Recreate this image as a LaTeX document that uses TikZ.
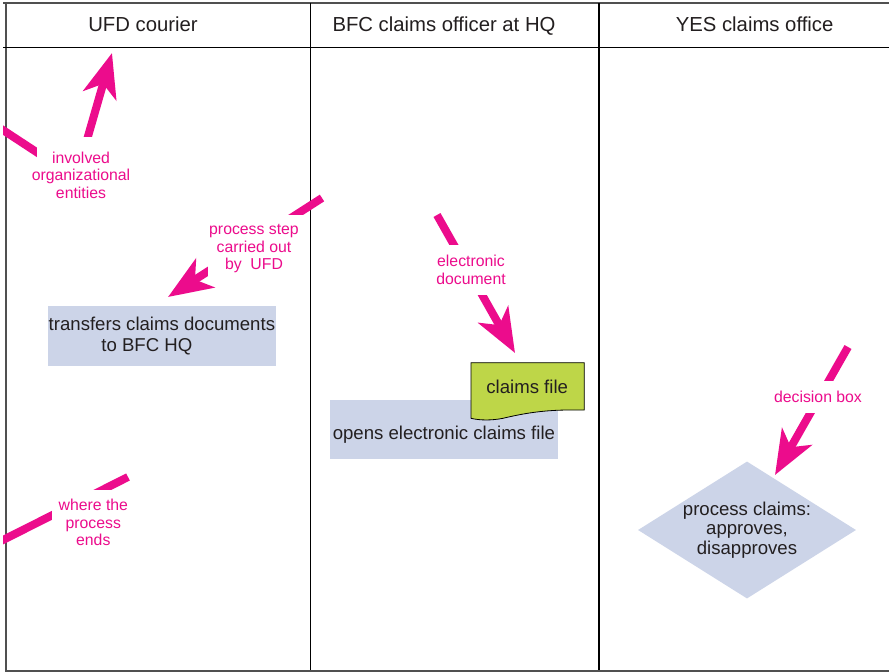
\documentclass[tikz,border=0pt]{standalone}
\usepackage{fontspec}
\setmainfont{Liberation Sans}
\usetikzlibrary{arrows.meta,shapes.geometric}
\definecolor{pinkc}{RGB}{236,12,140}
\definecolor{boxc}{RGB}{204,212,232}
\definecolor{docc}{RGB}{190,214,72}
\definecolor{txtc}{RGB}{35,31,32}
\definecolor{framec}{RGB}{80,80,80}
\begin{document}
\begin{tikzpicture}[x=1pt,y=-1pt,
  hdr/.style={font=\fontsize{20.3}{24}\selectfont, text=txtc, anchor=base, inner sep=0pt},
  stepbox/.style={fill=boxc, inner sep=0pt, font=\fontsize{18.6}{21}\selectfont, text=txtc, align=center},
  note/.style={font=\fontsize{15.8}{17.4}\selectfont, text=pinkc, align=center, inner sep=0pt},
  pinkline/.style={draw=pinkc, line width=8pt},
  pinkarrow/.style={pinkline, -{Stealth[length=44pt,width=34pt,inset=12pt]}},
  mask/.style={fill=white},
  frameline/.style={draw=framec, line width=2pt},
  laneline/.style={draw=black, line width=1.2pt}
]
\fill[white] (0,0) rectangle (889,672);
\useasboundingbox (0,0) rectangle (889,672);

% frame and lanes
\draw[frameline] (3,3.3) -- (889,3.3);
\draw[frameline] (5.7,3) -- (5.7,671.5);
\draw[frameline] (5,670.5) -- (889,670.5);
\draw[black, line width=1.4pt] (3,47.5) -- (889,47.5);
\draw[laneline] (310.8,3) -- (310.8,670);
\draw[laneline] (599,3) -- (599,670);

% headers
\node[hdr] (h1) at (143,31) {UFD courier};
\node[hdr] (h2) at (444,31) {BFC claims officer at HQ};
\node[hdr] (h3) at (754.6,31) {YES claims office};

% process steps
\node[stepbox, minimum width=228.3pt, minimum height=60pt] (s1) at (161.9,335.7)
  {transfers claims documents\\to BFC HQ\hspace*{30pt}};
\node[stepbox, minimum width=227.7pt, minimum height=59pt, text height=23.5pt, text depth=3.9pt] (s2) at (443.9,429.5)
  {opens electronic claims file};

% document
\path[fill=docc, draw=black, line width=0.8pt] (471,362.7) -- (584.3,362.7) -- (584.3,410) -- (570,410)
  .. controls (545,410) and (525,413) .. (503,418.3)
  .. controls (492,420.5) and (480,420.5) .. (471,418.3) -- cycle;
\node[anchor=base, inner sep=0pt, font=\fontsize{18.6}{21}\selectfont, text=txtc] (doc) at (527.2,393.3) {claims file};

% decision
\node[diamond, fill=boxc, minimum width=218pt, minimum height=137pt, inner sep=-4pt, aspect=1.59,
  align=center, font=\fontsize{18.6}{19.5}\selectfont, text=txtc] (dec) at (747,530)
  {process claims:\\approves,\\disapproves};

% annotations
\coordinate (a1org) at (76,178);
\coordinate (a1tip) at (112,53);
\coordinate (a1left) at (-2,126.8);
\coordinate (a2s) at (322,198);
\coordinate (a2t) at (168,297);
\coordinate (a3s) at (437,215);
\coordinate (a3t) at (515,353);
\coordinate (a4s) at (848,347);
\coordinate (a4t) at (775,475);
\coordinate (a5s) at (-2,542.5);
\coordinate (a5e) at (128,477);
\begin{scope}
\clip (3,0) rectangle (889,672);
\draw[pinkarrow] (a1org) -- (a1tip);
\draw[pinkline] (a1org) -- (a1left);
\draw[pinkarrow] (a2s) -- (a2t);
\draw[pinkarrow] (a3s) -- (a3t);
\draw[pinkarrow] (a4s) -- (a4t);
\draw[pinkline] (a5s) -- (a5e);
\end{scope}
\fill[mask] (37,137) rectangle (133,205);
\fill[mask] (208,215) rectangle (305,276);
\fill[mask] (433,245) rectangle (509,295);
\fill[mask] (770,381) rectangle (866,413);
\fill[mask] (51.7,490) rectangle (135,552);
\node[note] (n1) at (81,175.1) {involved\\organizational\\entities};
\node[note] (n2) at (254,248.6) {process step\\carried out\\by\ \ UFD};
\node[note] (n3) at (471,269.8) {electronic\\document};
\node[note, anchor=base] (n4) at (818,402.7) {decision box};
\node[note] (n5) at (93.3,522.5) {where the\\process\\ends};
\end{tikzpicture}
\end{document}
